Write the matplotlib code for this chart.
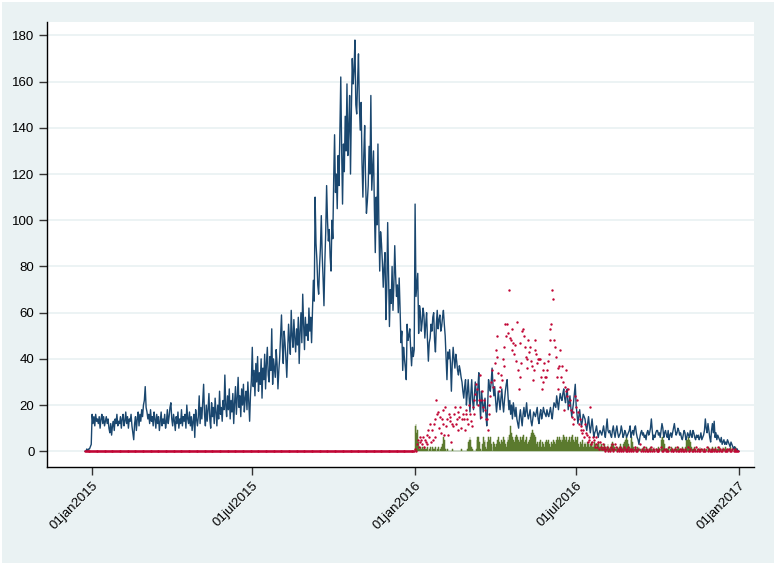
import numpy as np
import pandas as pd
import matplotlib.pyplot as plt
import matplotlib.dates as mdates
from matplotlib.ticker import FuncFormatter

plt.rcParams['font.family'] = ['Liberation Sans', 'DejaVu Sans']

# blue line: one value per day, first day 24dec2014, last day 01jan2017
line_start = "2014-12-24"
line_2014 = [0, 0, 1, 0, 1, 1, 2, 3]
line_2015 = [
    16, 12, 15, 11, 16, 13, 14, 12, 15, 10, 14, 16, 12, 15, 11, 13, 15, 12, 14, 10, 8, 12, 7, 11, 13, 9, 14, 12, 16, 11, 13,  # jan
    12, 15, 10, 14, 16, 11, 13, 17, 12, 15, 10, 14, 13, 16, 11, 8, 5, 12, 15, 9, 14, 17, 11, 16, 13, 18, 15, 20,  # feb
    22, 28, 19, 17, 14, 16, 12, 18, 13, 15, 11, 17, 14, 10, 16, 12, 15, 9, 13, 17, 11, 14, 12, 16, 10, 13, 18, 12, 15, 19, 21,  # mar
    14, 11, 16, 13, 9, 15, 12, 17, 10, 14, 12, 18, 11, 15, 13, 16, 10, 20, 14, 12, 17, 11, 15, 9, 13, 16, 6, 18, 14, 11,  # apr
    15, 24, 12, 19, 14, 22, 29, 16, 11, 20, 13, 18, 25, 14, 10, 21, 15, 19, 12, 23, 17, 11, 20, 14, 26, 16, 19, 13, 22, 18, 33,  # may
    20, 15, 24, 18, 27, 14, 22, 17, 25, 12, 21, 28, 16, 23, 32, 19, 24, 15, 27, 20, 29, 17, 23, 26, 18, 30, 21, 13, 25, 31,  # jun
    45, 28, 35, 24, 38, 30, 41, 26, 34, 29, 40, 23, 36, 31, 42, 27, 38, 45, 33, 30, 41, 35, 53, 29, 40, 36, 32, 44, 38, 27, 35,  # jul
    41, 50, 59, 45, 38, 52, 47, 40, 32, 44, 55, 48, 42, 61, 50, 45, 57, 49, 43, 53, 46, 58, 38, 52, 60, 47, 68, 55, 44, 58, 50,  # aug
    55, 48, 62, 52, 58, 47, 60, 74, 65, 110, 90, 83, 72, 68, 80, 88, 102, 85, 75, 63, 82, 95, 115, 100, 91, 96, 84, 78, 100, 92,  # sep
    118, 137, 112, 120, 105, 128, 115, 140, 162, 130, 107, 133, 121, 145, 130, 159, 128, 140, 154, 120, 148, 170, 159, 165, 178, 150, 146, 160, 172, 150, 139,  # oct
    151, 125, 110, 128, 141, 118, 103, 108, 115, 132, 120, 154, 113, 122, 130, 105, 86, 110, 98, 133, 100, 78, 95, 90, 82, 71, 80, 86, 57, 70,  # nov
    99, 75, 54, 70, 64, 80, 61, 72, 89, 76, 67, 72, 60, 75, 62, 47, 52, 35, 45, 40, 36, 31, 55, 48, 50, 53, 44, 37, 45, 41, 44,  # dec
]
line_2016 = [
    107, 67, 72, 77, 51, 63, 60, 52, 56, 62, 59, 49, 55, 60, 48, 39, 47, 49, 55, 52, 58, 60, 48, 43, 55, 61, 53, 57, 59, 52, 54,  # jan
    58, 61, 55, 50, 40, 31, 43, 40, 44, 38, 26, 38, 45, 40, 36, 42, 39, 35, 33, 37, 35, 32, 30, 26, 23, 28, 31, 20, 25,  # feb
    31, 24, 17, 25, 31, 22, 18, 24, 30, 26, 20, 28, 34, 22, 14, 26, 22, 17, 20, 23, 16, 11, 20, 31, 28, 26, 30, 36, 29, 24, 28,  # mar
    22, 17, 21, 26, 22, 18, 23, 27, 21, 17, 22, 26, 29, 31, 24, 18, 22, 16, 20, 14, 21, 18, 15, 19, 14, 12, 10, 15, 18, 14,  # apr
    11, 16, 19, 15, 17, 21, 16, 14, 16, 18, 13, 11, 14, 17, 16, 15, 17, 19, 14, 12, 16, 18, 14, 16, 19, 17, 16, 15, 18, 16, 15,  # may
    17, 19, 16, 14, 18, 21, 20, 19, 24, 21, 18, 22, 25, 23, 22, 25, 27, 23, 21, 25, 27, 18, 21, 24, 19, 15, 18, 21, 25, 29,  # jun
    20, 16, 12, 15, 18, 14, 11, 13, 16, 15, 14, 11, 9, 12, 15, 11, 8, 11, 14, 10, 6, 8, 9, 11, 8, 6, 8, 9, 8, 7, 9,  # jul
    11, 8, 6, 10, 14, 9, 8, 9, 7, 6, 9, 11, 8, 6, 9, 11, 8, 6, 7, 8, 11, 9, 6, 7, 9, 8, 6, 7, 8, 9, 11,  # aug
    6, 8, 9, 7, 10, 11, 8, 6, 5, 3, 6, 8, 9, 7, 8, 6, 7, 5, 8, 9, 7, 8, 10, 14, 9, 5, 7, 6, 8, 9,  # sep
    9, 7, 8, 6, 9, 12, 10, 6, 8, 9, 7, 6, 9, 5, 7, 8, 6, 8, 10, 12, 9, 7, 8, 10, 9, 7, 8, 6, 5, 7, 9,  # oct
    8, 5, 6, 8, 7, 6, 9, 7, 6, 9, 8, 6, 5, 7, 6, 7, 5, 6, 8, 5, 6, 7, 9, 14, 10, 8, 12, 9, 6, 4,  # nov
    9, 12, 8, 13, 6, 8, 5, 7, 6, 5, 4, 6, 3, 4, 5, 3, 4, 3, 5, 4, 3, 2, 4, 3, 2, 1, 2, 1, 1, 1, 0,  # dec
]
line_2017 = [0]

# red dots: 0 every day up to 31dec2015, then one value per day in 2016 (None = no dot)
dots_zero_start = "2014-12-24"
dots_zero_end = "2015-12-31"
dots_2016 = [
    1, 0, 3, 5, 2, 6, 4, 5, 3, 6, 2, 5, 4, 7, 3, 9, 6, 12, 4, 9, 5, 12, 6, 14, 22, 16, 17, 10, 15, 8, 14,  # jan
    18, 12, 7, 19, 11, 14, 7, 16, 13, 15, 4, 12, 11, 16, 19, 12, 14, 9, 17, 15, 19, 10, 14, 16, 14, 9, 16, 18, 14,  # feb
    12, 20, 16, 13, 11, 19, 16, 22, 25, 29, 27, 20, 22, 33, 15, 22, 26, 19, 22, 18, 14, 14, 9, 16, 20, 24, 30, 35, 28, 31, 38,  # mar
    44, 50, 41, 34, 26, 28, 33, 31, 40, 37, 45, 55, 50, 55, 51, 70, 49, 48, 53, 44, 47, 42, 46, 39, 56, 35, 27, 32, 47, 38,  # apr
    52, 53, 50, 45, 41, 40, 36, 48, 43, 45, 39, 37, 31, 35, 44, 48, 42, 38, 40, 40, 40, 32, 27, 30, 35, 38, 32, 32, 35, 39, 42,  # may
    53, 48, 55, 70, 66, 48, 45, 41, 32, 36, 27, 37, 44, 32, 37, 30, 18, 28, 35, 26, 24, 27, 20, 22, 18, 15, 17, 12, 14, 24,  # jun
    19, 22, 17, 12, 14, 9, 11, 8, 9, 6, 12, 8, 7, 4, 6, 5, 19, 3, 4, 6, 5, 2, 6, 3, 2, 4, 1, 4, 2, 1, 3,  # jul
    2, 1, 0, 1, 2, 0, 1, 0, 2, 3, 1, 0, 1, 3, 2, 0, 1, 0, 2, 1, 0, 1, 0, 2, 1, 0, 0, 1, 2, 0, 1,  # aug
    0, 1, 0, None, 2, 1, 0, 0, 1, None, 3, 0, 1, 0, None, 2, 0, 1, 0, 0, 1, None, 0, 2, 0, 1, 0, None, 1, 0,  # sep
    0, 0, 1, None, 2, 0, 0, 1, None, 0, 1, 0, 0, 2, None, 0, 1, 0, 0, None, 1, 0, 2, 0, 0, 1, None, 0, 1, 0, 0,  # oct
    1, 0, None, 2, 0, 0, 1, None, 0, 0, 1, 0, 2, None, 0, 1, 0, 0, 1, None, 0, 0, 1, 0, None, 2, 0, 1, 0, 0,  # nov
    0, 1, None, 0, 1, 0, 0, 2, None, 0, 1, 0, 0, 1, None, 0, 0, 1, 0, None, 1, 0, 0, 1, None, 0, 0, 1, 0, 0, 0,  # dec
]

# green bars: one value per day in 2016
bars_2016 = [
    11, 12, 8, 9, 4, 1, 2, 1, 2, 1, 0, 2, 1, 1, 2, 0, 1, 2, 1, 0, 2, 1, 1, 2, 0, 1, 2, 1, 0, 1, 2,  # jan
    3, 6, 5, 1, 0, 0, 1, 0, 0, 0, 0, 1, 0, 0, 0, 0, 0, 0, 0, 0, 0, 1, 0, 0, 0, 0, 0, 0, 1,  # feb
    4, 5, 6, 5, 2, 1, 0, 0, 0, 1, 5, 6, 6, 4, 1, 0, 3, 6, 4, 5, 2, 1, 4, 6, 5, 6, 3, 0, 2, 4, 3,  # mar
    2, 3, 5, 6, 4, 2, 3, 5, 4, 6, 5, 3, 2, 4, 6, 5, 7, 11, 8, 6, 5, 4, 6, 5, 7, 6, 5, 4, 6, 5,  # apr
    6, 5, 7, 4, 5, 6, 3, 4, 5, 6, 7, 8, 9, 8, 7, 6, 3, 4, 2, 3, 4, 5, 2, 4, 3, 2, 4, 5, 3, 4, 5,  # may
    3, 2, 4, 3, 5, 2, 4, 3, 5, 6, 5, 6, 5, 4, 6, 5, 7, 6, 5, 6, 4, 5, 6, 5, 4, 6, 7, 5, 4, 6,  # jun
    5, 4, 6, 3, 2, 4, 3, 5, 2, 3, 4, 3, 2, 4, 3, 2, 3, 4, 2, 3, 2, 4, 3, 2, 3, 4, 2, 3, 2, 3, 2,  # jul
    2, 3, 2, 1, 2, 3, 2, 1, 2, 3, 4, 3, 2, 1, 2, 1, 2, 1, 2, 3, 2, 1, 2, 3, 4, 5, 6, 5, 3, 2, 1,  # aug
    5, 6, 4, 2, 1, 2, 1, 2, 1, 2, 1, 1, 0, 1, 2, 1, 0, 1, 2, 1, 0, 1, 2, 1, 0, 1, 2, 1, 0, 1,  # sep
    1, 2, 1, 0, 5, 6, 6, 5, 3, 1, 0, 1, 2, 1, 0, 1, 2, 1, 0, 1, 2, 1, 0, 1, 2, 1, 0, 1, 2, 1, 0,  # oct
    1, 2, 5, 5, 6, 5, 4, 2, 1, 0, 1, 2, 1, 0, 1, 0, 1, 2, 1, 0, 1, 0, 1, 0, 1, 0, 1, 2, 1, 0,  # nov
    1, 2, 1, 1, 2, 1, 0, 1, 1, 2, 1, 0, 1, 2, 1, 1, 2, 1, 0, 1, 1, 2, 1, 0, 1, 0, 1, 2, 1, 0, 0,  # dec
]

x_ticks = ["2015-01-01", "2015-07-01", "2016-01-01", "2016-07-01", "2017-01-01"]
y_ticks = [0, 20, 40, 60, 80, 100, 120, 140, 160, 180]

# build the dated series
line_vals = line_2014 + line_2015 + line_2016 + line_2017
line_dates = pd.date_range(line_start, periods=len(line_vals), freq="D")

zero_dates = pd.date_range(dots_zero_start, dots_zero_end, freq="D")
d2016 = pd.date_range("2016-01-01", periods=len(dots_2016), freq="D")
dot_dates = zero_dates.append(d2016)
dot_vals = np.concatenate([np.zeros(len(zero_dates)),
                           np.array([np.nan if v is None else v for v in dots_2016], dtype=float)])

bar_dates = pd.date_range("2016-01-01", periods=len(bars_2016), freq="D")

# figure, stata-like look
bg = "#EAF2F3"
fig = plt.figure(figsize=(7.76, 5.65), dpi=100, facecolor="white")
fig.patches.append(plt.Rectangle((2 / 776, 2 / 565), 772 / 776, 561 / 565,
                                 transform=fig.transFigure, facecolor=bg,
                                 edgecolor="none", zorder=-10))
ax = fig.add_axes([47 / 776, 1 - 467 / 565, 707 / 776, 445 / 565])
ax.set_facecolor("white")

ax.bar(bar_dates, bars_2016, width=1.0, color="#5B7A2E", edgecolor="#5B7A2E",
       linewidth=0.35, zorder=2)
ax.plot(line_dates, line_vals, color="#1A476F", linewidth=1.0, zorder=3)
ax.scatter(dot_dates, dot_vals, s=3.0, color="#C10534", linewidths=0, zorder=4)

ax.set_xlim(pd.Timestamp("2014-11-11"), pd.Timestamp("2017-01-18"))
ax.set_ylim(-6.8, 185.8)

ax.set_yticks(y_ticks)
ax.set_xticks(pd.to_datetime(x_ticks))
ax.xaxis.set_major_formatter(FuncFormatter(lambda v, p: mdates.num2date(v).strftime("%d%b%Y").lower()))
for lab in ax.get_xticklabels():
    lab.set_rotation(45)
    lab.set_ha("right")
    lab.set_va("top")
    lab.set_rotation_mode("anchor")

ax.yaxis.grid(True, color=bg, linewidth=1.3)
ax.set_axisbelow(True)
for s in ["top", "right"]:
    ax.spines[s].set_visible(False)
for s in ["left", "bottom"]:
    ax.spines[s].set_linewidth(1.0)
    ax.spines[s].set_color("black")
ax.tick_params(direction="out", length=6, width=1, color="#333333", labelsize=9.5, pad=3)

fig.savefig("out.png", dpi=100, facecolor=fig.get_facecolor())
